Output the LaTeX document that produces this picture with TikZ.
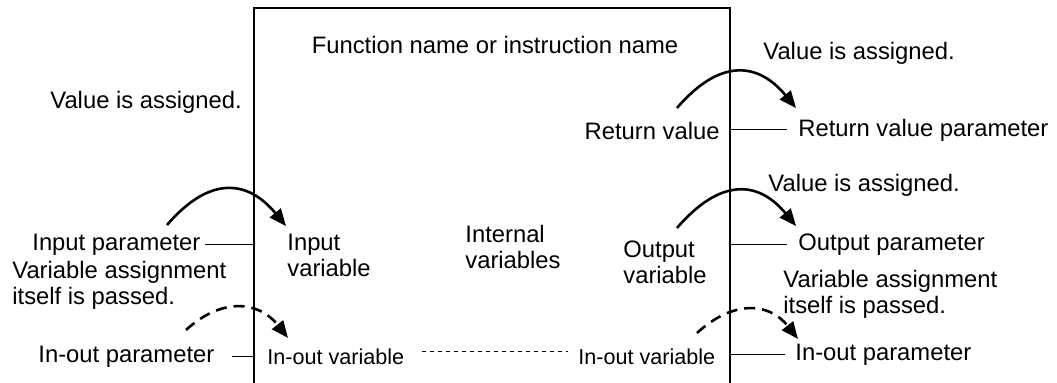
\documentclass[tikz,border=0pt]{standalone}
\usepackage{fontspec}
\setmainfont{Liberation Sans}
\usetikzlibrary{arrows.meta}
\begin{document}
\begin{tikzpicture}[x=0.5pt,y=-0.5pt,>={Triangle[length=8.5pt,width=7pt]},
        lbl/.style={inner sep=0pt,align=left,font=\fontsize{11.9}{13}\selectfont},
        small/.style={lbl,font=\fontsize{10.8}{13}\selectfont},
        stub/.style={line width=0.5pt,shorten <=#1},stub/.default=2pt,
        arch/.style={->,line width=1.3pt},
        dasharch/.style={arch,dash pattern=on 5.5pt off 3.5pt}]
        \useasboundingbox (0,0) rectangle (1057,383);

        % the block, open at the bottom
        \coordinate (boxL) at (254,8);
        \coordinate (boxR) at (730,8);
        \coordinate (base) at (0,383);
        \draw[line width=0.8pt] (boxL |- base) -- (boxL) -- (boxR) -- (boxR |- base);
        \node[lbl] (fname) at (495,45) {Function name or instruction name};

        % inside the block
        \node[lbl,anchor=west] (invar) at (287,255) {Input\\variable};
        \node[lbl,anchor=west] (intvar) at (465,247) {Internal\\variables};
        \node[lbl,anchor=west] (outvar) at (623,262) {Output\\variable};
        \node[lbl,anchor=east] (retval) at (720,131) {Return value};
        \node[small,anchor=west] (iovarL) at (267,357) {In-out variable};
        \node[small,anchor=west] (iovarR) at (578,357) {In-out variable};
        \draw[line width=0.5pt,dash pattern=on 2pt off 2pt,shorten <=8.5pt,shorten >=5pt]
            ([yshift=2.5pt]iovarL.east) -- ([yshift=2.5pt]iovarR.west);

        % left side
        \node[lbl,anchor=west] (valL) at (50,102) {Value is assigned.};
        \node[lbl,anchor=west] (inpar) at (32,245) {Input parameter};
        \node[lbl,anchor=west] (passL) at (12,285) {Variable assignment\\itself is passed.};
        \node[lbl,anchor=west] (ioparL) at (38,357) {In-out parameter};
        \draw[stub] (inpar.east) -- (inpar.east -| boxL);
        \draw[stub=8.5pt] (ioparL.east) -- (ioparL.east -| boxL);

        % right side
        \node[lbl,anchor=west] (valR) at (763,53) {Value is assigned.};
        \node[lbl,anchor=west] (retpar) at (798,130) {Return value parameter};
        \node[lbl,anchor=west] (valO) at (768,185) {Value is assigned.};
        \node[lbl,anchor=west] (outpar) at (798,245) {Output parameter};
        \node[lbl,anchor=west] (passR) at (783,294) {Variable assignment\\itself is passed.};
        \node[lbl,anchor=west] (ioparR) at (795,355) {In-out parameter};
        \draw[stub=5.5pt] (retpar.west) -- (retpar.west -| boxR);
        \draw[stub=5.5pt] (outpar.west) -- (outpar.west -| boxR);
        \draw[stub=5pt] (ioparR.west) -- (ioparR.west -| boxR);

        % assignment arches
        \coordinate (in-a) at (167,225);
        \coordinate (in-b) at (286,226);
        \coordinate (ret-a) at (677,108);
        \coordinate (ret-b) at (796,108);
        \coordinate (out-a) at (677,228);
        \coordinate (out-b) at (796,226);
        \coordinate (ioL-a) at (186,330);
        \coordinate (ioL-b) at (288,338);
        \coordinate (ioR-a) at (697,333);
        \coordinate (ioR-b) at (798,339);
        \draw[arch] (in-a) .. controls +(43,-50) and +(-38,-46) .. (in-b);
        \draw[arch] (ret-a) .. controls +(43,-50) and +(-38,-46) .. (ret-b);
        \draw[arch] (out-a) .. controls +(43,-50) and +(-38,-46) .. (out-b);
        \draw[dasharch] (ioL-a) .. controls +(35,-32) and +(-30,-38) .. (ioL-b);
        \draw[dasharch] (ioR-a) .. controls +(35,-32) and +(-30,-38) .. (ioR-b);
\end{tikzpicture}
\end{document}
